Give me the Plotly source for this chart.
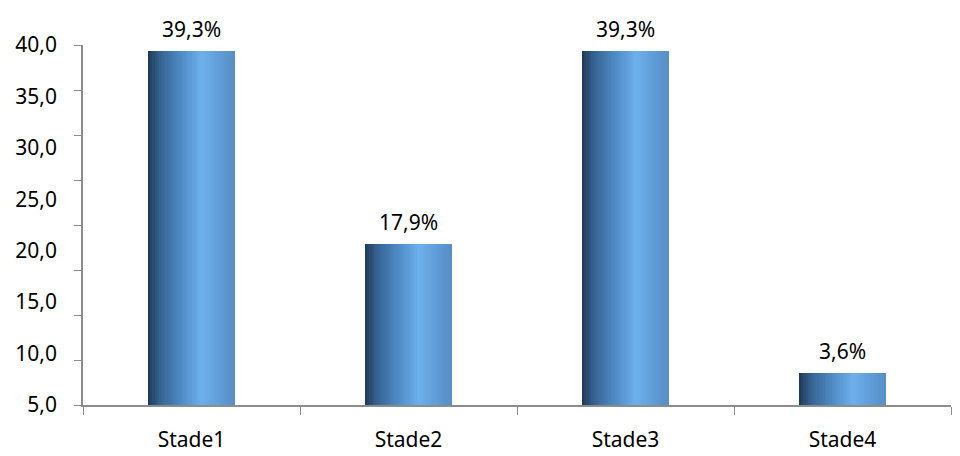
import numpy as np
import plotly.graph_objects as go

# data
stades = ["Stade1", "Stade2", "Stade3", "Stade4"]
pourcent = [39.3, 17.9, 39.3, 3.6]
labels_pct = ["39,3%", "17,9%", "39,3%", "3,6%"]
ytick_text = ["40,0", "35,0", "30,0", "25,0", "20,0", "15,0", "10,0", "5,0"]

FONT = "Noto Sans"
AXIS_COL = "#8c8c8c"

# horizontal gradient across each bar (dark left edge -> light blue -> slightly darker right)
stops = [
    (0.00, (30, 56, 84)),
    (0.12, (52, 95, 140)),
    (0.35, (76, 134, 192)),
    (0.62, (108, 176, 236)),
    (0.85, (94, 154, 212)),
    (1.00, (88, 142, 196)),
]


def grad_color(t):
    for (t0, c0), (t1, c1) in zip(stops[:-1], stops[1:]):
        if t0 <= t <= t1:
            f = (t - t0) / (t1 - t0)
            c = [round(a + (b - a) * f) for a, b in zip(c0, c1)]
            return f"rgb({c[0]},{c[1]},{c[2]})"
    return f"rgb{stops[-1][1]}"


fig = go.Figure()

bar_w = 0.4
n_strips = 40
strip_w = bar_w / n_strips
for i in range(n_strips):
    fig.add_trace(go.Bar(
        x=stades, y=pourcent,
        width=strip_w * 1.05,
        offset=-bar_w / 2 + i * strip_w,
        marker=dict(color=grad_color((i + 0.5) / n_strips), line=dict(width=0)),
        hoverinfo="skip", showlegend=False,
    ))

# invisible trace so the label axis gets drawn
fig.add_trace(go.Scatter(x=stades, y=pourcent, yaxis="y2", mode="markers",
                         marker=dict(opacity=0), hoverinfo="skip", showlegend=False))

for s, v, t in zip(stades, pourcent, labels_pct):
    fig.add_annotation(x=s, y=v, text=t, showarrow=False, yshift=22,
                       font=dict(family=FONT, size=21, color="#000000"))

# page body has an 8px margin, so the figure is sized to fit the window
fig.update_layout(
    width=952, height=448,
    margin=dict(l=75, r=9, t=37, b=51),
    plot_bgcolor="white", paper_bgcolor="white",
    barmode="overlay", bargap=0,
    xaxis=dict(
        type="category", showgrid=False, zeroline=False, automargin=False,
        showline=True, linecolor=AXIS_COL, linewidth=1.5,
        ticks="outside", tickson="boundaries", ticklen=8, tickcolor=AXIS_COL,
        ticklabelstandoff=15,
        tickfont=dict(family=FONT, size=21, color="#000000"),
    ),
    yaxis=dict(
        range=[0, 40], tickvals=list(range(0, 41, 5)), showticklabels=False,
        ticks="outside", ticklen=7, tickcolor=AXIS_COL, automargin=False,
        showgrid=False, zeroline=False,
        showline=True, linecolor=AXIS_COL, linewidth=1.5,
    ),
    yaxis2=dict(
        range=[0, 40], overlaying="y", side="left", automargin=False,
        tickvals=list(np.linspace(40, 0, len(ytick_text))), ticktext=ytick_text,
        ticks="", showgrid=False, zeroline=False, showline=False,
        ticklabelstandoff=25,
        tickfont=dict(family=FONT, size=21, color="#000000"),
    ),
)

fig.write_html("out.html")
